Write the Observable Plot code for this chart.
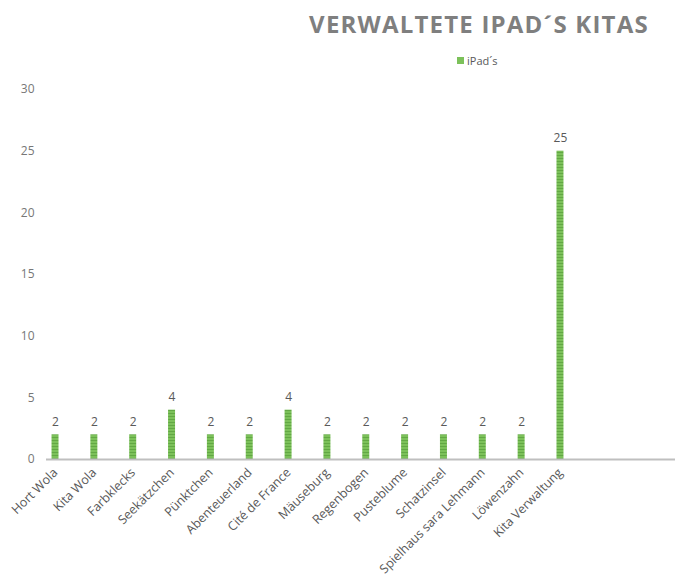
<!DOCTYPE html>
<html>
<head>
<meta charset="utf-8">
<script src="https://cdn.jsdelivr.net/npm/d3@7"></script>
<script src="https://cdn.jsdelivr.net/npm/@observablehq/plot@0.6"></script>
<style>
  body { margin: 0; background: #fff; font-family: "Open Sans", sans-serif; }
  #wrap { width: 678px; }
  #head { position: relative; height: 75px; }
  #title { position: absolute; left: 0; width: 678px; top: 7px; padding-left: 280px; box-sizing: border-box; text-align: center;
           font-size: 24px; font-weight: 700; color: #7f7f7f; letter-spacing: 1.2px; white-space: nowrap; }
  #legend { position: absolute; left: 457px; top: 53px; font-size: 11px; color: #595959; display: flex; align-items: center; }
  #legend .sw { width: 7px; height: 7px; background: #7cc15a; margin-right: 3px; }
</style>
</head>
<body>
<div id="wrap">
  <div id="head">
    <div id="title">VERWALTETE IPAD´S KITAS</div>
    <div id="legend"><span class="sw"></span><span>iPad´s</span></div>
  </div>
  <div id="chart"></div>
</div>
<script>
const categories = ["Hort Wola", "Kita Wola", "Farbklecks", "Seekätzchen", "Pünktchen", "Abenteuerland", "Cité de France", "Mäuseburg", "Regenbogen", "Pusteblume", "Schatzinsel", "Spielhaus sara Lehmann", "Löwenzahn", "Kita Verwaltung"];
const values = [2, 2, 2, 4, 2, 2, 4, 2, 2, 2, 2, 2, 2, 25];
const yTicks = [0, 5, 10, 15, 20, 25, 30];

const data = categories.map((c, i) => ({category: c, value: values[i]}));

const chart = Plot.plot({
  width: 678,
  height: 506,
  marginLeft: 46,
  marginRight: 3,
  marginTop: 14,
  marginBottom: 122,
  style: {fontFamily: "Open Sans, sans-serif", fontSize: "12px", color: "#595959", background: "#fff"},
  x: {domain: categories, range: [35.6, 579.4], paddingInner: 0.82, paddingOuter: 0.41, round: false, label: null},
  y: {domain: [0, 30], ticks: yTicks, label: null},
  marks: [
    Plot.axisY({ticks: yTicks, tickSize: 0, tickPadding: 12, fill: "#777", fontSize: 12}),
    Plot.axisX({tickRotate: -45, tickSize: 0, tickPadding: 11, fill: "#595959", fontSize: 12.5}),
    Plot.barY(data, {x: "category", y: "value", fill: "url(#stripes)"}),
    Plot.ruleY([0], {stroke: "#bfbfbf", strokeWidth: 2}),
    Plot.text(data, {x: "category", y: "value", text: d => String(d.value), dy: -9, lineAnchor: "bottom", fill: "#595959", fontSize: 12})
  ]
});

const ns = "http://www.w3.org/2000/svg";
const defs = document.createElementNS(ns, "defs");
defs.innerHTML = `<pattern id="stripes" patternUnits="userSpaceOnUse" width="8" height="3">
  <rect width="8" height="3" fill="#7cc15a"></rect>
  <rect y="2" width="8" height="1" fill="#62a844"></rect>
</pattern>`;
chart.insertBefore(defs, chart.firstChild);
document.getElementById("chart").appendChild(chart);
</script>
</body>
</html>
